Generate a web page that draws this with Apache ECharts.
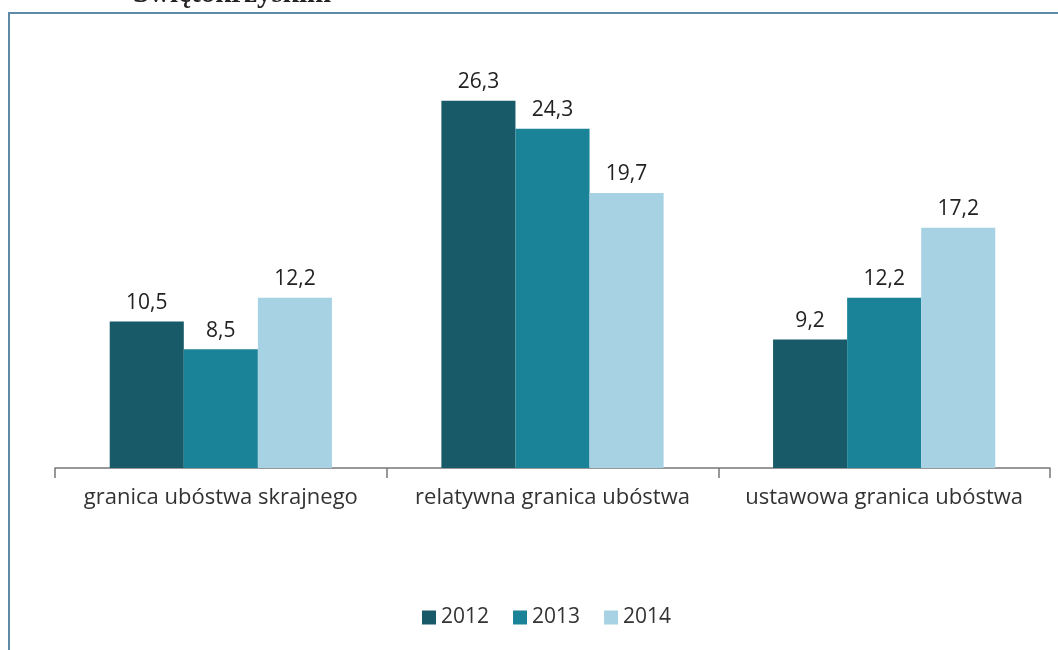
<!DOCTYPE html>
<html>
<head>
<meta charset="utf-8">
<script src="https://cdn.jsdelivr.net/npm/echarts@6/dist/echarts.min.js"></script>
<style>html,body{margin:0;padding:0;background:#fff;}#c{width:1058px;height:650px;}</style>
</head>
<body>
<div id="c"></div>
<script>
const categories = ['granica ubóstwa skrajnego', 'relatywna granica ubóstwa', 'ustawowa granica ubóstwa'];
const years = ['2012', '2013', '2014'];
const values2012 = [10.5, 26.3, 9.2];
const values2013 = [8.5, 24.3, 12.2];
const values2014 = [12.2, 19.7, 17.2];
const colors = ['#185a68', '#1b8397', '#a7d2e4'];

const seriesValues = [values2012, values2013, values2014];
const chart = echarts.init(document.getElementById('c'));
const font = '"Open Sans"';
chart.setOption({
  animation: false,
  backgroundColor: '#fff',
  graphic: [
    { type: 'rect', shape: { x: 9, y: 13, width: 1200, height: 800 }, style: { fill: 'none', stroke: '#5d8aa4', lineWidth: 2 } },
    { type: 'text', left: 133, top: -20, style: { text: 'Świętokrzyskim', font: 'bold 29px "Liberation Serif"', fill: '#222' } }
  ],
  legend: {
    bottom: 17, left: 417,
    itemWidth: 14, itemHeight: 14, itemGap: 24,
    icon: 'rect',
    textStyle: { fontFamily: font, fontSize: 21, color: '#333' },
    data: years
  },
  grid: { left: 55, right: 8, top: 77, bottom: 182 },
  xAxis: {
    type: 'category', data: categories,
    axisLine: { lineStyle: { color: '#777', width: 1.5 } },
    axisTick: { show: true, interval: 0, length: 10, lineStyle: { color: '#777', width: 1.5 } },
    axisLabel: { interval: 0, fontFamily: font, fontSize: 22, color: '#333', margin: 19 }
  },
  yAxis: { type: 'value', min: 0, max: 28, show: false, splitLine: { show: false } },
  series: years.map((y, i) => ({
    name: y, type: 'bar', data: seriesValues[i],
    barGap: '0%', barCategoryGap: '33%',
    itemStyle: { color: colors[i] },
    label: { show: true, position: 'top', distance: 8, fontFamily: font, fontSize: 21, color: '#222',
      formatter: p => String(p.value).replace('.', ',') }
  }))
});
</script>
</body>
</html>
